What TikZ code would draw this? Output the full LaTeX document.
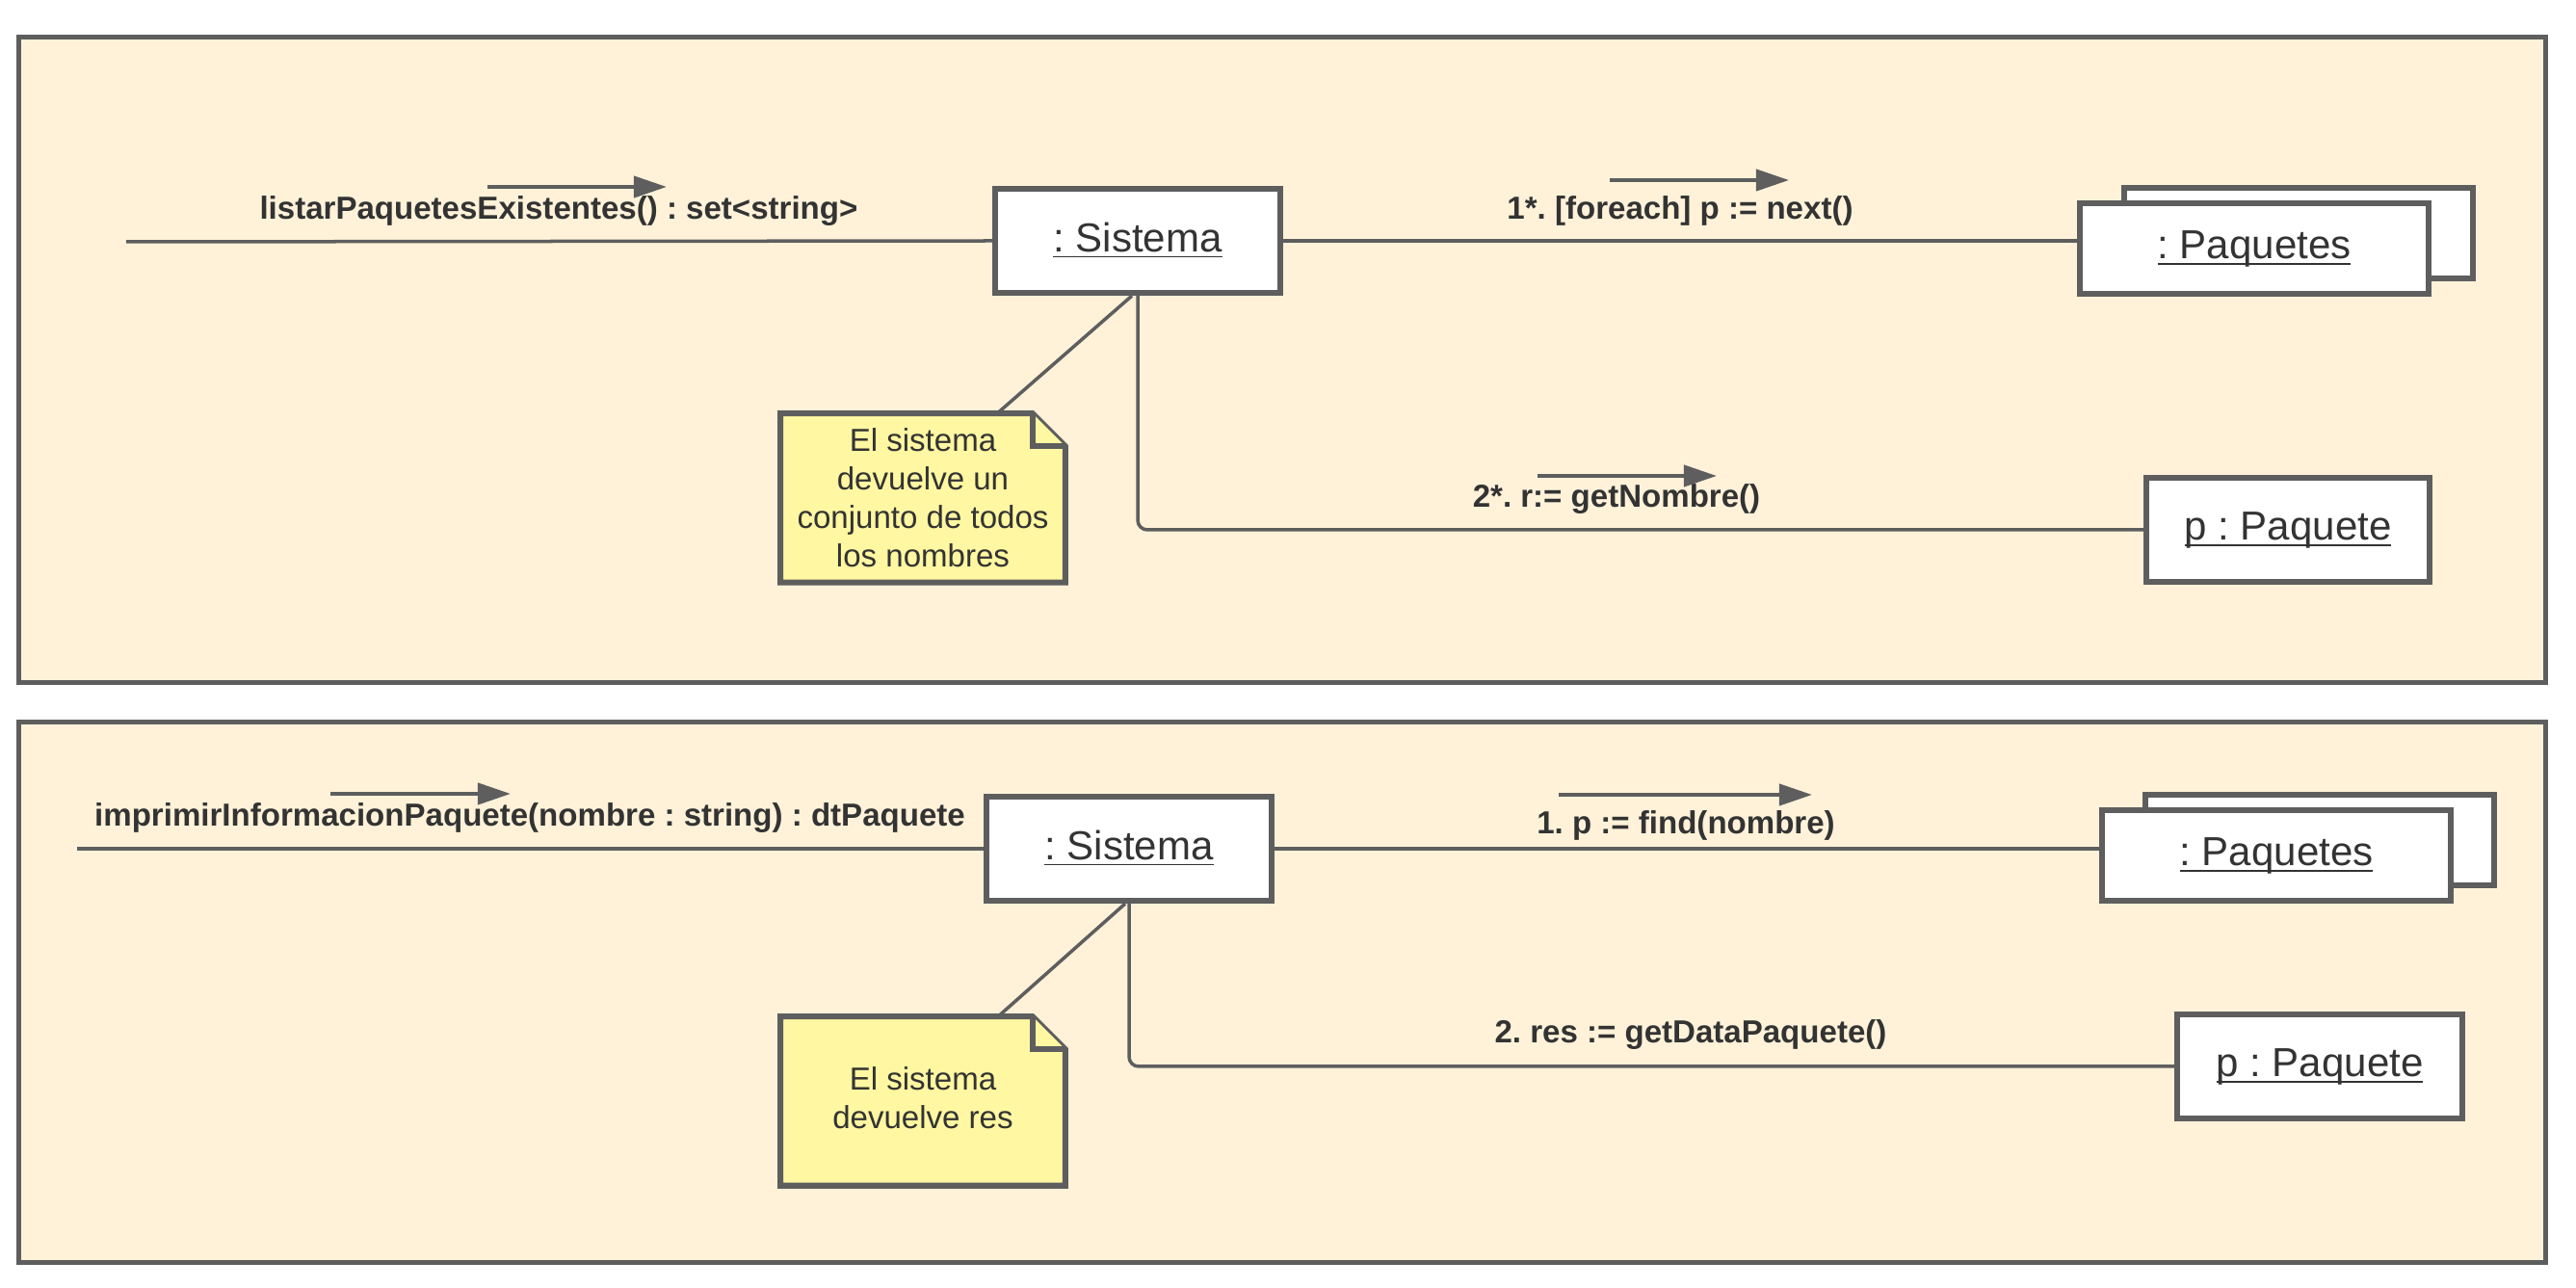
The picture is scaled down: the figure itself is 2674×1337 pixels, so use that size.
\documentclass[tikz,border=0pt]{standalone}
\usepackage{fontspec}
\setmainfont{Liberation Sans}
\usetikzlibrary{calc,positioning,arrows.meta}

\definecolor{framefill}{HTML}{FFF2D9}
\definecolor{notefill}{HTML}{FFF7A1}
\definecolor{linegray}{HTML}{5E5E5E}
\definecolor{textgray}{HTML}{333333}

\newcommand{\objname}[1]{\underline{\raisebox{0pt}[\height][0pt]{#1}}}

\begin{document}
\frenchspacing
\begin{tikzpicture}[x=0.01cm,y=-0.01cm]

  \tikzstyle{frame} = [draw=linegray, fill=framefill, line width=0.05cm]
  \tikzstyle{object} = [draw=linegray, fill=white, rectangle, line width=0.06cm, minimum width=2.96cm, minimum height=1.08cm, text=textgray, font=\fontsize{11.95}{14}\selectfont]
  \tikzstyle{multi} = [object, minimum width=3.62cm, minimum height=0.93cm]
  \tikzstyle{notearea} = [rectangle, minimum width=2.94cm, minimum height=1.74cm, inner sep=0pt]
  \tikzstyle{notebox} = [draw=linegray, fill=notefill, line width=0.06cm, line join=miter]
  \tikzstyle{notetext} = [text=textgray, align=center, font=\fontsize{9.4}{11.4}\selectfont]
  \tikzstyle{link} = [draw=linegray, line width=0.035cm]
  \tikzstyle{msglabel} = [text=textgray, inner sep=0pt, font=\fontsize{9.4}{11.4}\selectfont\bfseries]
  \tikzstyle{msg} = [-{Triangle[length=0.34cm,width=0.22cm]}, draw=linegray, fill=linegray, line width=0.04cm]

  \useasboundingbox (0,0) rectangle (2674,1337);

  % listarPaquetesExistentes
  \draw[frame] (19.5,38.5) rectangle (2642.5,708.5);

  \coordinate (in1) at (131,251);
  \node[object] (sis1) at (1181,250) {\objname{: Sistema}};
  \node[multi] (pqs1back) at (2386,242) {};
  \node[multi] (pqs1) at (2340,258) {\objname{: Paquetes}};
  \node[object, minimum width=2.94cm, minimum height=1.07cm] (pq1) at (2375,550) {\objname{p : Paquete}};

  \node[notearea] (note1) at (958,517) {};
  \draw[notebox] (note1.north west) -- ([xshift=-0.34cm]note1.north east) -- ([yshift=-0.34cm]note1.north east)
    -- (note1.south east) -- (note1.south west) -- cycle;
  \draw[notebox] ([xshift=-0.34cm]note1.north east) |- ([yshift=-0.34cm]note1.north east);
  \node[notetext] (note1txt) at (note1) {El sistema\\devuelve un\\conjunto de todos\\los nombres};

  \draw[link] (in1) -- (sis1.west);
  \draw[link] (sis1.east) -- (sis1.east -| pqs1.west);
  \draw[link] ([xshift=-0.06cm]sis1.south) -- ([xshift=0.77cm]note1.north);
  \draw[link, rounded corners=0.1cm] (sis1.south) |- (pq1.west);

  \node[msglabel] (lbl1) at (580,219) {listarPaquetesExistentes() : set<string>};
  \node[msglabel] (lbl2) at (1744,219) {1*. [foreach] p := next()};
  \node[msglabel] (lbl3) at (1678,518) {2*. r:= getNombre()};
  \draw[msg] ($(lbl1.center)+(-74,-25)$) -- ++(186,0);
  \draw[msg] ($(lbl2.center)+(-73,-32)$) -- ++(186,0);
  \draw[msg] ($(lbl3.center)+(-82,-24)$) -- ++(186,0);

  % imprimirInformacionPaquete
  \draw[frame] (19.5,749.5) rectangle (2642.5,1310.5);

  \coordinate (in2) at (80,881);
  \node[object] (sis2) at (1172,881) {\objname{: Sistema}};
  \node[multi] (pqs2back) at (2408,872) {};
  \node[multi] (pqs2) at (2363,888) {\objname{: Paquetes}};
  \node[object, minimum width=2.95cm] (pq2) at (2408,1107) {\objname{p : Paquete}};

  \node[notearea] (note2) at (958,1143) {};
  \draw[notebox] (note2.north west) -- ([xshift=-0.34cm]note2.north east) -- ([yshift=-0.34cm]note2.north east)
    -- (note2.south east) -- (note2.south west) -- cycle;
  \draw[notebox] ([xshift=-0.34cm]note2.north east) |- ([yshift=-0.34cm]note2.north east);
  \node[notetext] (note2txt) at ($(note2)+(0,-3)$) {El sistema\\devuelve res};

  \draw[link] (in2) -- (sis2.west);
  \draw[link] (sis2.east) -- (sis2.east -| pqs2.west);
  \draw[link] ([xshift=-0.04cm]sis2.south) -- ([xshift=0.78cm]note2.north);
  \draw[link, rounded corners=0.1cm] (sis2.south) |- (pq2.west);

  \node[msglabel] (lbl4) at (550,849) {imprimirInformacionPaquete(nombre : string) : dtPaquete};
  \node[msglabel] (lbl5) at (1750,857) {1. p := find(nombre)};
  \node[msglabel] (lbl6) at (1755,1074) {2. res := getDataPaquete()};
  \draw[msg] ($(lbl4.center)+(-207,-25)$) -- ++(187,0);
  \draw[msg] ($(lbl5.center)+(-132,-32)$) -- ++(263,0);

\end{tikzpicture}
\end{document}
